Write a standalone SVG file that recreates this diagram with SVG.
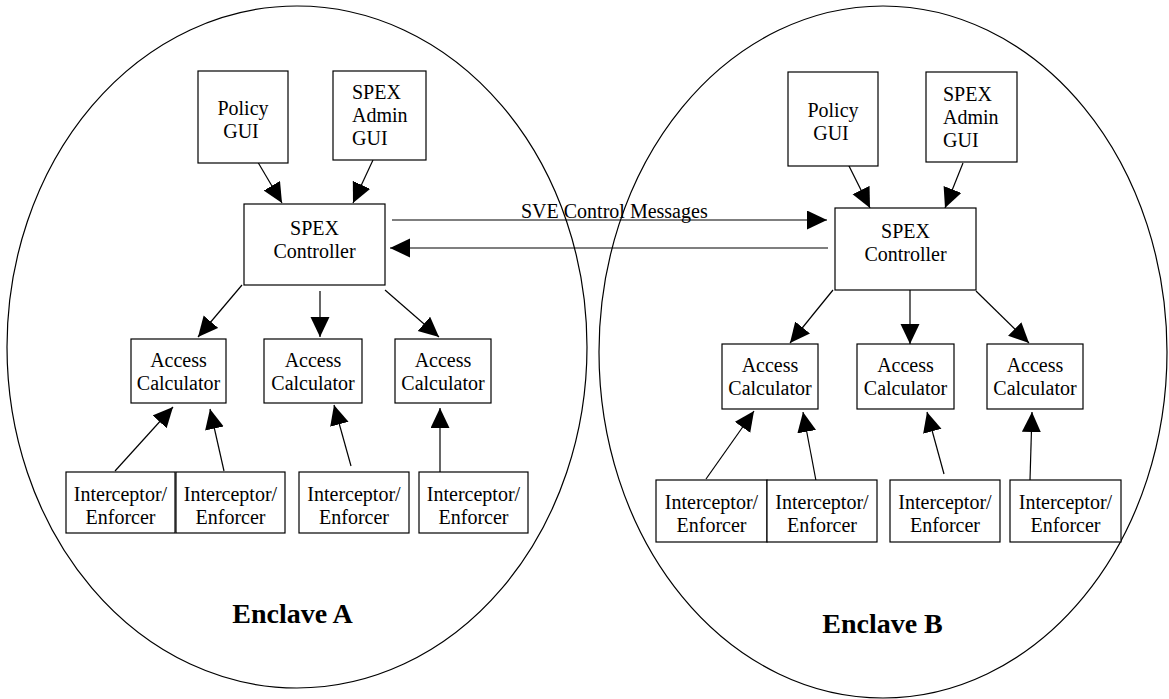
<svg xmlns="http://www.w3.org/2000/svg" width="1169" height="699" viewBox="0 0 1169 699">
<style>
.bx{fill:#fff;stroke:#000;stroke-width:1.2}
.el{fill:none;stroke:#000;stroke-width:1.2}
.t{font-family:"Liberation Serif","Times New Roman",serif;font-size:20px;fill:#000}
.c{text-anchor:middle}
.big{font-family:"Liberation Serif","Times New Roman",serif;font-size:28px;font-weight:bold;text-anchor:middle;fill:#000}
.ln{stroke:#000;stroke-width:1.2;fill:none;marker-end:url(#ah)}
</style>
<defs>
<marker id="ah" markerUnits="userSpaceOnUse" markerWidth="22" markerHeight="22" refX="20" refY="9.5" orient="auto">
<path d="M0,0 L20,9.5 L0,19 z" fill="#000"/>
</marker>
</defs>
<rect width="1169" height="699" fill="#fff"/>
<g id="enclaveA">
<ellipse class="el" cx="297" cy="347" rx="290" ry="341"/>
<text class="big" x="292.5" y="623">Enclave A</text>
</g>
<g id="enclaveB">
<ellipse class="el" cx="883" cy="352" rx="284" ry="346"/>
<text class="big" x="882.5" y="633">Enclave B</text>
</g>
<g id="connectors">
<line class="ln" x1="256" y1="159" x2="282" y2="203"/>
<line class="ln" x1="373" y1="160" x2="353" y2="203"/>
<line class="ln" x1="242" y1="285" x2="198" y2="337"/>
<line class="ln" x1="320" y1="291" x2="320" y2="337"/>
<line class="ln" x1="385" y1="290" x2="439" y2="337"/>
<line class="ln" x1="115" y1="471" x2="173" y2="407"/>
<line class="ln" x1="224" y1="471" x2="210" y2="409"/>
<line class="ln" x1="351" y1="466" x2="334" y2="405"/>
<line class="ln" x1="440" y1="472" x2="440" y2="408"/>
<line class="ln" x1="392" y1="220" x2="827" y2="220"/>
<line class="ln" x1="828" y1="248" x2="390" y2="248"/>
<line class="ln" x1="847" y1="162" x2="870" y2="208"/>
<line class="ln" x1="963" y1="163" x2="945" y2="208"/>
<line class="ln" x1="833" y1="290" x2="790" y2="343"/>
<line class="ln" x1="910" y1="290" x2="910" y2="344"/>
<line class="ln" x1="976" y1="291" x2="1029" y2="343"/>
<line class="ln" x1="706" y1="479" x2="754" y2="411"/>
<line class="ln" x1="817" y1="486" x2="803" y2="412"/>
<line class="ln" x1="944" y1="474" x2="927" y2="412"/>
<line class="ln" x1="1030" y1="480" x2="1032" y2="412"/>
<text class="t" x="521" y="218">SVE Control Messages</text>
</g>
<g id="a-policy-gui"><rect class="bx" x="198" y="71" width="90" height="92"/><text class="t c" x="243" y="115">Policy</text><text class="t c" x="241" y="138">GUI</text></g>
<g id="a-admin-gui"><rect class="bx" x="333" y="71" width="93" height="89"/><text class="t" x="352" y="99">SPEX</text><text class="t" x="352" y="122">Admin</text><text class="t" x="352" y="145">GUI</text></g>
<g id="a-controller"><rect class="bx" x="244" y="204" width="141" height="81"/><text class="t c" x="314.5" y="235">SPEX</text><text class="t c" x="314.5" y="258">Controller</text></g>
<g id="a-calc1"><rect class="bx" x="131" y="339" width="95" height="64"/><text class="t c" x="178.5" y="367">Access</text><text class="t c" x="178.5" y="390">Calculator</text></g>
<g id="a-calc2"><rect class="bx" x="264" y="339" width="98" height="64"/><text class="t c" x="313" y="367">Access</text><text class="t c" x="313" y="390">Calculator</text></g>
<g id="a-calc3"><rect class="bx" x="395" y="339" width="96" height="64"/><text class="t c" x="443" y="367">Access</text><text class="t c" x="443" y="390">Calculator</text></g>
<g id="a-ie1"><rect class="bx" x="66" y="472" width="109" height="61"/><text class="t c" x="120.5" y="501">Interceptor/</text><text class="t c" x="120.5" y="524">Enforcer</text></g>
<g id="a-ie2"><rect class="bx" x="176" y="472" width="109" height="61"/><text class="t c" x="230.5" y="501">Interceptor/</text><text class="t c" x="230.5" y="524">Enforcer</text></g>
<g id="a-ie3"><rect class="bx" x="299" y="472" width="110" height="61"/><text class="t c" x="354" y="501">Interceptor/</text><text class="t c" x="354" y="524">Enforcer</text></g>
<g id="a-ie4"><rect class="bx" x="419" y="472" width="109" height="61"/><text class="t c" x="473.5" y="501">Interceptor/</text><text class="t c" x="473.5" y="524">Enforcer</text></g>
<g id="b-policy-gui"><rect class="bx" x="788" y="72" width="90" height="94"/><text class="t c" x="833" y="117">Policy</text><text class="t c" x="831" y="140">GUI</text></g>
<g id="b-admin-gui"><rect class="bx" x="926" y="72" width="91" height="90"/><text class="t" x="943" y="101">SPEX</text><text class="t" x="943" y="124">Admin</text><text class="t" x="943" y="147">GUI</text></g>
<g id="b-controller"><rect class="bx" x="835" y="208" width="141" height="82"/><text class="t c" x="905.5" y="238">SPEX</text><text class="t c" x="905.5" y="261">Controller</text></g>
<g id="b-calc1"><rect class="bx" x="722" y="344" width="96" height="65"/><text class="t c" x="770" y="372">Access</text><text class="t c" x="770" y="395">Calculator</text></g>
<g id="b-calc2"><rect class="bx" x="857" y="344" width="97" height="65"/><text class="t c" x="905.5" y="372">Access</text><text class="t c" x="905.5" y="395">Calculator</text></g>
<g id="b-calc3"><rect class="bx" x="987" y="344" width="96" height="65"/><text class="t c" x="1035" y="372">Access</text><text class="t c" x="1035" y="395">Calculator</text></g>
<g id="b-ie1"><rect class="bx" x="656" y="480" width="111" height="62"/><text class="t c" x="711.5" y="509">Interceptor/</text><text class="t c" x="711.5" y="532">Enforcer</text></g>
<g id="b-ie2"><rect class="bx" x="767" y="480" width="110" height="62"/><text class="t c" x="822" y="509">Interceptor/</text><text class="t c" x="822" y="532">Enforcer</text></g>
<g id="b-ie3"><rect class="bx" x="890" y="480" width="110" height="62"/><text class="t c" x="945" y="509">Interceptor/</text><text class="t c" x="945" y="532">Enforcer</text></g>
<g id="b-ie4"><rect class="bx" x="1010" y="480" width="111" height="62"/><text class="t c" x="1065.5" y="509">Interceptor/</text><text class="t c" x="1065.5" y="532">Enforcer</text></g>
</svg>
